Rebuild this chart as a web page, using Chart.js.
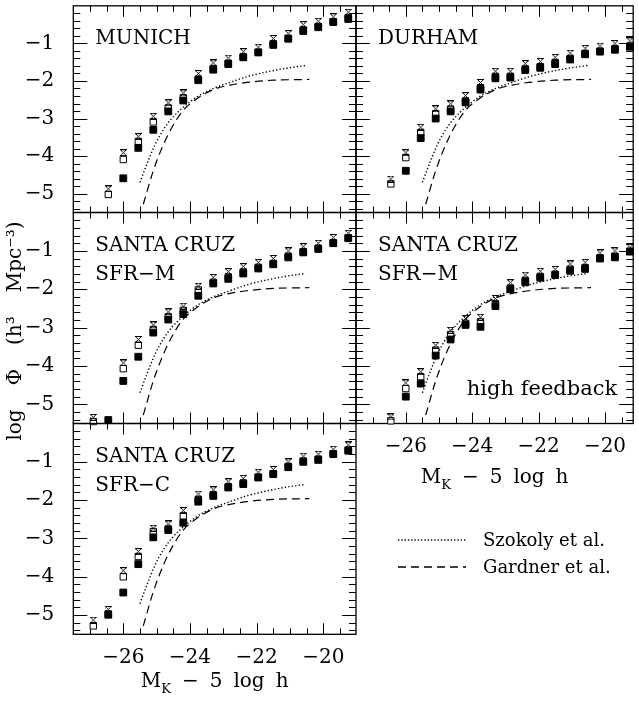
<!DOCTYPE html>
<html lang="en">
<head>
<meta charset="utf-8" />
<title>K-band luminosity functions</title>
<script src="https://cdn.jsdelivr.net/npm/chart.js@4.4.0/dist/chart.umd.min.js"></script>
<style>
  html, body { margin: 0; padding: 0; background: #fff; }
  #fig { position: relative; width: 639px; height: 708px; overflow: hidden; }
  #fig canvas { position: absolute; left: 0; top: 0; }
</style>
</head>
<body>
<div id="fig">
  <canvas id="p1" width="639" height="708"></canvas>
  <canvas id="p2" width="639" height="708"></canvas>
  <canvas id="p3" width="639" height="708"></canvas>
  <canvas id="p4" width="639" height="708"></canvas>
  <canvas id="p5" width="639" height="708"></canvas>
</div>
<script>
// magnitude bins (M_K - 5 log h)
const magBins = [-26.9, -26.45, -26.0, -25.55, -25.1, -24.65, -24.2, -23.75, -23.3,
                 -22.85, -22.4, -21.95, -21.5, -21.05, -20.6, -20.15, -19.7, -19.25];

// log phi per panel: filled squares, open squares, crosses
const munichFilled = [null, null, -4.59, -3.78, -3.30, -2.81, -2.52, -1.98, -1.70, -1.55, -1.37, -1.24, -1.04, -0.87, -0.67, -0.57, -0.43, -0.35];
const munichOpen   = [null, -5.02, -4.09, -3.61, -3.09, -2.72, -2.45, -1.95, -1.67, -1.53, -1.36, -1.24, -1.01, -0.88, -0.64, -0.55, -0.43, -0.31];
const munichCross  = [null, -4.87, -3.91, -3.48, -2.94, -2.58, -2.32, -1.80, -1.52, -1.39, -1.22, -1.10, -0.87, -0.74, -0.50, -0.41, -0.29, -0.17];

const durhamFilled = [null, null, -4.39, -3.52, -3.00, -2.81, -2.57, -2.23, -1.93, -1.91, -1.71, -1.65, -1.55, -1.43, -1.29, -1.22, -1.17, -1.09];
const durhamOpen   = [null, -4.74, -4.04, -3.37, -2.87, -2.75, -2.53, -2.18, -1.88, -1.88, -1.68, -1.62, -1.51, -1.40, -1.27, -1.21, -1.14, -1.07];
const durhamCross  = [null, -4.61, -3.91, -3.23, -2.74, -2.61, -2.39, -2.04, -1.74, -1.74, -1.54, -1.48, -1.37, -1.26, -1.13, -1.07, -1.00, -0.93];

const sfrmFilled = [null, -5.41, -4.39, -3.76, -3.13, -2.79, -2.65, -2.17, -1.85, -1.73, -1.59, -1.46, -1.35, -1.17, -1.04, -0.95, -0.80, -0.67];
const sfrmOpen   = [-5.45, null, -4.07, -3.46, -3.05, -2.72, -2.55, -2.02, -1.82, -1.68, -1.55, -1.43, -1.33, -1.14, -1.02, -0.93, -0.79, -0.66];
const sfrmCross  = [-5.34, null, -3.92, -3.31, -2.93, -2.59, -2.44, -1.92, -1.69, -1.54, -1.41, -1.30, -1.20, -1.00, -0.89, -0.80, -0.65, -0.54];

const hifbFilled = [null, null, -4.80, -4.46, -3.73, -3.31, -2.93, -2.98, -2.44, -2.00, -1.82, -1.70, -1.63, -1.52, -1.47, -1.20, -1.17, -1.02];
const hifbOpen   = [null, -5.43, -4.59, -4.28, -3.59, -3.18, -2.89, -2.85, -2.38, -1.97, -1.77, -1.67, -1.61, -1.48, -1.44, -1.18, -1.14, -1.01];
const hifbCross  = [null, -5.33, -4.44, -4.15, -3.46, -3.07, -2.76, -2.73, -2.24, -1.83, -1.63, -1.53, -1.48, -1.34, -1.30, -1.05, -1.00, -0.91];

const sfrcFilled = [null, -4.99, -4.41, -3.67, -2.97, -2.78, -2.59, -2.04, -1.89, -1.67, -1.58, -1.41, -1.32, -1.14, -1.00, -0.95, -0.80, -0.71];
const sfrcOpen   = [-5.28, -4.97, -4.00, -3.47, -2.82, -2.75, -2.41, -1.98, -1.86, -1.65, -1.55, -1.40, -1.31, -1.12, -0.98, -0.93, -0.79, -0.69];
const sfrcCross  = [-5.13, -4.85, -3.84, -3.34, -2.73, -2.62, -2.27, -1.84, -1.73, -1.52, -1.43, -1.27, -1.20, -1.00, -0.85, -0.80, -0.67, -0.56];

// observed luminosity functions (same in every panel)
const szokolyMag = [-25.5, -25.3, -25.05, -24.8, -24.55, -24.2, -23.8, -23.3, -22.9, -22.3, -21.7, -21.1, -20.53];
const szokolyPhi = [-4.70, -4.23, -3.70, -3.30, -3.00, -2.70, -2.43, -2.20, -2.07, -1.89, -1.76, -1.66, -1.59];
const gardnerMag = [-25.4, -25.1, -24.8, -24.5, -24.2, -23.8, -23.3, -22.8, -22.3, -21.5, -20.42];
const gardnerPhi = [-5.28, -4.39, -3.70, -3.17, -2.78, -2.48, -2.23, -2.11, -2.04, -1.98, -1.96];

// tick labels
const xTickLabels = [-26, -24, -22, -20];
const yTickLabels = [-1, -2, -3, -4, -5];

const SERIF = '"DejaVu Serif", "Liberation Serif", serif';
const minus = v => (v < 0 ? '\u2212' : '') + Math.abs(v);

// small hourglass-like cross symbol
function makeCross() {
  const c = document.createElement('canvas');
  c.width = 7; c.height = 7;
  const g = c.getContext('2d');
  g.strokeStyle = '#000';
  g.lineWidth = 1;
  g.beginPath();
  g.moveTo(0, 0.5); g.lineTo(7, 0.5);
  g.moveTo(0, 6.5); g.lineTo(7, 6.5);
  g.moveTo(1, 1); g.lineTo(6, 6);
  g.moveTo(6, 1); g.lineTo(1, 6);
  g.stroke();
  return c;
}
const crossSymbol = makeCross();

function pts(xs, ys) {
  return xs.map((x, i) => ({x: x, y: ys[i]})).filter(p => p.y !== null);
}

function wordsWidth(ctx, words, gap) {
  return words.reduce((s, w) => s + ctx.measureText(w).width, 0) + gap * (words.length - 1);
}
function drawWords(ctx, words, x, y, gap) {
  let px = x;
  words.forEach(w => {
    ctx.fillText(w, px, y);
    px += ctx.measureText(w).width + gap;
  });
  return px;
}

function noPadding(s) {
  s.paddingTop = s.paddingBottom = s.paddingLeft = s.paddingRight = 0;
}

// frame + inward ticks on all four sides, labels, titles, legend
const framePlugin = {
  id: 'frame',
  beforeDatasetsDraw(chart) {
    const {ctx, chartArea: a, scales: {x, y}} = chart;
    ctx.save();
    ctx.strokeStyle = '#000';
    ctx.lineWidth = 1.3;
    ctx.strokeRect(a.left, a.top, a.right - a.left, a.bottom - a.top);
    ctx.lineWidth = 1;
    ctx.beginPath();
    for (let k = Math.ceil(x.min * 2); k <= Math.floor(x.max * 2); k++) {
      const px = Math.round(x.getPixelForValue(k / 2)) + 0.5;
      if (px <= a.left + 1 || px >= a.right - 1) continue;
      const len = (k % 4 === 0) ? 11 : 6;
      ctx.moveTo(px, a.bottom); ctx.lineTo(px, a.bottom - len);
      ctx.moveTo(px, a.top); ctx.lineTo(px, a.top + len);
    }
    for (let k = Math.ceil(y.min * 5); k <= Math.floor(y.max * 5); k++) {
      const py = Math.round(y.getPixelForValue(k / 5)) + 0.5;
      if (py <= a.top + 1 || py >= a.bottom - 1) continue;
      const len = (k % 5 === 0) ? 14 : 7;
      ctx.moveTo(a.left, py); ctx.lineTo(a.left + len, py);
      ctx.moveTo(a.right, py); ctx.lineTo(a.right - len, py);
    }
    ctx.stroke();
    ctx.restore();
  },
  afterDraw(chart, args, opts) {
    const {ctx, chartArea: a} = chart;
    ctx.save();
    ctx.fillStyle = '#000';
    ctx.font = '20px ' + SERIF;
    ctx.textBaseline = 'alphabetic';
    ctx.textAlign = 'left';
    (opts.lines || []).forEach((t, i) => ctx.fillText(t, a.left + 22, a.top + 38 + i * 29.5));
    if (opts.note) {
      ctx.font = '21px ' + SERIF;
      ctx.textAlign = 'right';
      ctx.fillText(opts.note, a.right - 16, a.bottom - 29);
    }
    if (opts.xTitle) {
      ctx.textAlign = 'left';
      const rest = ['\u2212', '5', 'log', 'h'];
      ctx.font = '20px ' + SERIF;
      const wM = ctx.measureText('M').width;
      const wRest = wordsWidth(ctx, rest, 11);
      ctx.font = '13px ' + SERIF;
      const wK = ctx.measureText('K').width;
      const total = wM + wK + 11 + wRest;
      let px = (a.left + a.right) / 2 - total / 2;
      const base = a.bottom + opts.xTitle;
      ctx.font = '20px ' + SERIF;
      ctx.fillText('M', px, base);
      px += wM;
      ctx.font = '13px ' + SERIF;
      ctx.fillText('K', px, base + 6);
      px += wK + 11;
      ctx.font = '20px ' + SERIF;
      drawWords(ctx, rest, px, base, 11);
    }
    if (opts.yTitle) {
      ctx.font = '20px ' + SERIF;
      ctx.textBaseline = 'middle';
      const words = ['log', '\u03A6', '(h\u00B3', 'Mpc\u207B\u00B3)'];
      const w = wordsWidth(ctx, words, 24);
      ctx.translate(16, (a.top + a.bottom) / 2 + 13);
      ctx.rotate(-Math.PI / 2);
      drawWords(ctx, words, -w / 2, 0, 24);
    }
    if (opts.legend) {
      ctx.setTransform(1, 0, 0, 1, 0, 0);
      ctx.font = '18px ' + SERIF;
      ctx.textBaseline = 'middle';
      ctx.textAlign = 'left';
      ctx.strokeStyle = '#000';
      ctx.lineWidth = 1.3;
      const items = [
        {label: 'Szokoly et al.', dash: [1.3, 2], y: 540},
        {label: 'Gardner et al.', dash: [8, 5], y: 567}
      ];
      items.forEach(it => {
        ctx.setLineDash(it.dash);
        ctx.beginPath();
        ctx.moveTo(398, it.y); ctx.lineTo(466, it.y);
        ctx.stroke();
        ctx.fillText(it.label, 483, it.y + 1);
      });
      ctx.setLineDash([]);
    }
    ctx.restore();
  }
};

function makePanel(id, box, series, opts) {
  const [L, R, T, B] = box;
  const showX = !!opts.showX, showY = !!opts.showY;
  const xMax = -27.5 + (R - L) / 33.33;
  new Chart(document.getElementById(id), {
    type: 'scatter',
    data: {
      datasets: [
        {data: pts(magBins, series[0]), pointStyle: 'rect', pointRadius: 4.8,
         backgroundColor: '#000', borderColor: '#000', borderWidth: 1, order: 0, clip: false},
        {data: pts(magBins, series[2]), pointStyle: crossSymbol, pointRadius: 3.5,
         order: 1, clip: false},
        {data: pts(magBins, series[1]), pointStyle: 'rect', pointRadius: 4.5,
         backgroundColor: '#fff', borderColor: '#000', borderWidth: 1, order: 2, clip: false},
        {type: 'line', data: pts(szokolyMag, szokolyPhi), borderColor: '#000', borderWidth: 1.4,
         borderDash: [1.3, 2.2], pointRadius: 0, cubicInterpolationMode: 'monotone', fill: false, order: 3},
        {type: 'line', data: pts(gardnerMag, gardnerPhi), borderColor: '#000', borderWidth: 1.2,
         borderDash: [8, 5], pointRadius: 0, cubicInterpolationMode: 'monotone', fill: false, order: 4}
      ]
    },
    options: {
      responsive: false,
      animation: false,
      events: [],
      layout: {padding: {left: 0, right: 639 - R, top: T, bottom: 0}},
      scales: {
        x: {
          type: 'linear', min: -27.5, max: xMax,
          afterFit: s => { s.height = 708 - B; noPadding(s); },
          afterBuildTicks: s => { s.ticks = xTickLabels.map(v => ({value: v})); },
          grid: {display: false, drawTicks: false},
          border: {display: false},
          ticks: {display: showX, padding: 11, color: '#000', maxRotation: 0, autoSkip: false,
                  font: {family: SERIF, size: 20}, callback: v => minus(v)}
        },
        y: {
          type: 'linear', min: -5.5, max: 0,
          afterFit: s => { s.width = L; noPadding(s); },
          afterBuildTicks: s => { s.ticks = yTickLabels.map(v => ({value: v})); },
          grid: {display: false, drawTicks: false},
          border: {display: false},
          ticks: {display: showY, padding: 19, color: '#000', autoSkip: false,
                  font: {family: SERIF, size: 20}, callback: v => minus(v)}
        }
      },
      plugins: {
        legend: {display: false},
        tooltip: {enabled: false},
        frame: opts
      }
    },
    plugins: [framePlugin]
  });
}

makePanel('p1', [73.3, 356, 1.7, 212.5], [munichFilled, munichOpen, munichCross],
          {lines: ['MUNICH'], showY: true});
makePanel('p2', [356, 634.3, 1.7, 212.5], [durhamFilled, durhamOpen, durhamCross],
          {lines: ['DURHAM']});
makePanel('p3', [73.3, 356, 212.5, 423.5], [sfrmFilled, sfrmOpen, sfrmCross],
          {lines: ['SANTA CRUZ', 'SFR\u2212M'], showY: true, yTitle: true});
makePanel('p4', [356, 634.3, 212.5, 423.5], [hifbFilled, hifbOpen, hifbCross],
          {lines: ['SANTA CRUZ', 'SFR\u2212M'], note: 'high feedback', showX: true, xTitle: 59});
makePanel('p5', [73.3, 356, 423.5, 634.3], [sfrcFilled, sfrcOpen, sfrcCross],
          {lines: ['SANTA CRUZ', 'SFR\u2212C'], showY: true, showX: true, xTitle: 53, legend: true});
</script>
</body>
</html>
